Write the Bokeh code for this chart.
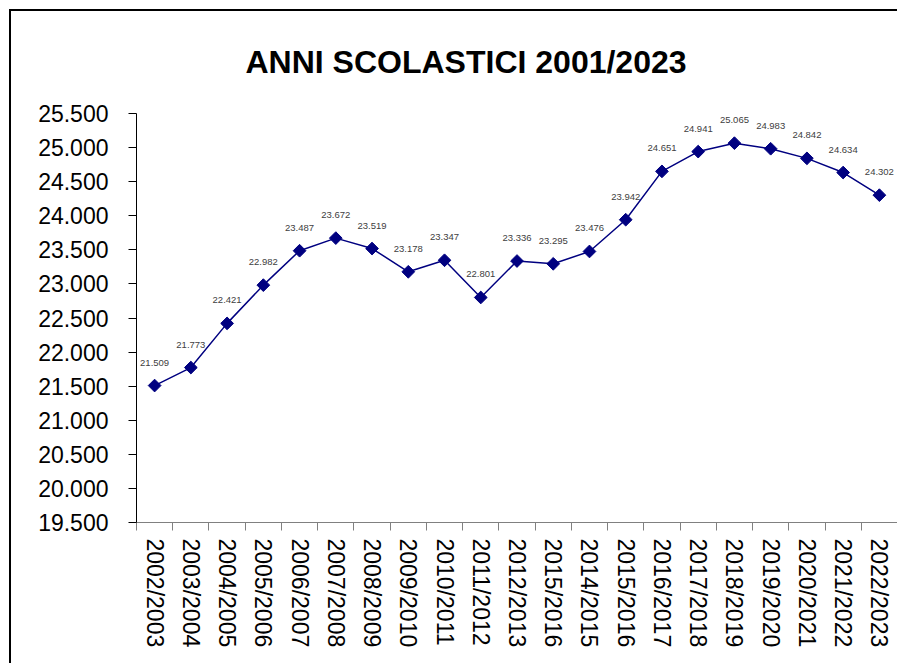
from bokeh.plotting import figure
from bokeh.models import ColumnDataSource, FixedTicker, LabelSet, Title, NumeralTickFormatter
from bokeh.embed import file_html
from bokeh.resources import INLINE
from bokeh.core.properties import value
import math

title_text = "ANNI SCOLASTICI 2001/2023"
categories = ["2002/2003", "2003/2004", "2004/2005", "2005/2006", "2006/2007", "2007/2008",
              "2008/2009", "2009/2010", "2010/2011", "2011/2012", "2012/2013", "2015/2016",
              "2014/2015", "2015/2016", "2016/2017", "2017/2018", "2018/2019", "2019/2020",
              "2020/2021", "2021/2022", "2022/2023"]
values = [21.509, 21.773, 22.421, 22.982, 23.487, 23.672, 23.519, 23.178, 23.347, 22.801,
          23.336, 23.295, 23.476, 23.942, 24.651, 24.941, 25.065, 24.983, 24.842, 24.634, 24.302]
y_ticks = [19.5, 20.0, 20.5, 21.0, 21.5, 22.0, 22.5, 23.0, 23.5, 24.0, 24.5, 25.0, 25.5]

n = len(categories)
xs = [i + 0.5 for i in range(n)]
src = ColumnDataSource(dict(x=xs, y=values, lab=["%.3f" % v for v in values]))

p = figure(width=888, height=654, output_backend="svg", toolbar_location=None,
           x_range=(0, n), y_range=(y_ticks[0], y_ticks[-1]),
           min_border_left=125, min_border_right=2, min_border_top=102, min_border_bottom=143)
p.styles = {"border-left": "2px solid black", "border-top": "2px solid black",
            "margin-left": "9px", "margin-top": "9px"}
p.outline_line_color = None
p.xgrid.visible = False
p.ygrid.visible = False

FONT = "Liberation Sans"

p.line("x", "y", source=src, line_color="#000080", line_width=1.5)
p.scatter("x", "y", source=src, marker="square", angle=math.pi / 4, size=9,
          fill_color="#000080", line_color="#000080")

labels = LabelSet(x="x", y="y", text="lab", source=src, y_offset=23,
                  text_align="center", text_baseline="middle",
                  text_font=value(FONT), text_font_size="9.5px", text_color="#404040")
p.add_layout(labels)

p.title = Title(text=title_text, align="left", offset=109, standoff=63, vertical_align="top",
                text_font=FONT, text_font_style="bold", text_font_size="32px",
                text_color="black")

# y axis
p.yaxis.ticker = FixedTicker(ticks=y_ticks)
p.yaxis.formatter = NumeralTickFormatter(format="0.000")
p.yaxis.major_label_text_font = FONT
p.yaxis.major_label_text_font_size = "23px"
p.yaxis.major_label_text_color = "black"
p.yaxis.major_label_standoff = 20
p.yaxis.major_tick_out = 8
p.yaxis.major_tick_in = 0
p.yaxis.minor_tick_out = 0
p.yaxis.minor_tick_in = 0
p.yaxis.axis_line_color = "black"
p.yaxis.major_tick_line_color = "black"

# x axis
p.xaxis.ticker = FixedTicker(ticks=xs, minor_ticks=list(range(n + 1)))
p.xaxis.major_label_overrides = {x: c for x, c in zip(xs, categories)}
p.xaxis.major_label_orientation = "vertical"
p.xaxis.major_label_text_font = FONT
p.xaxis.major_label_text_font_size = "23px"
p.xaxis.major_label_text_color = "black"
p.xaxis.major_label_standoff = 8
p.xaxis.major_tick_out = 8
p.xaxis.major_tick_in = 0
p.xaxis.major_tick_line_color = None
p.xaxis.minor_tick_out = 8
p.xaxis.minor_tick_in = 0
p.xaxis.minor_tick_line_color = "#808080"
p.xaxis.axis_line_color = "#808080"

open("out.html", "w").write(file_html(p, INLINE))
